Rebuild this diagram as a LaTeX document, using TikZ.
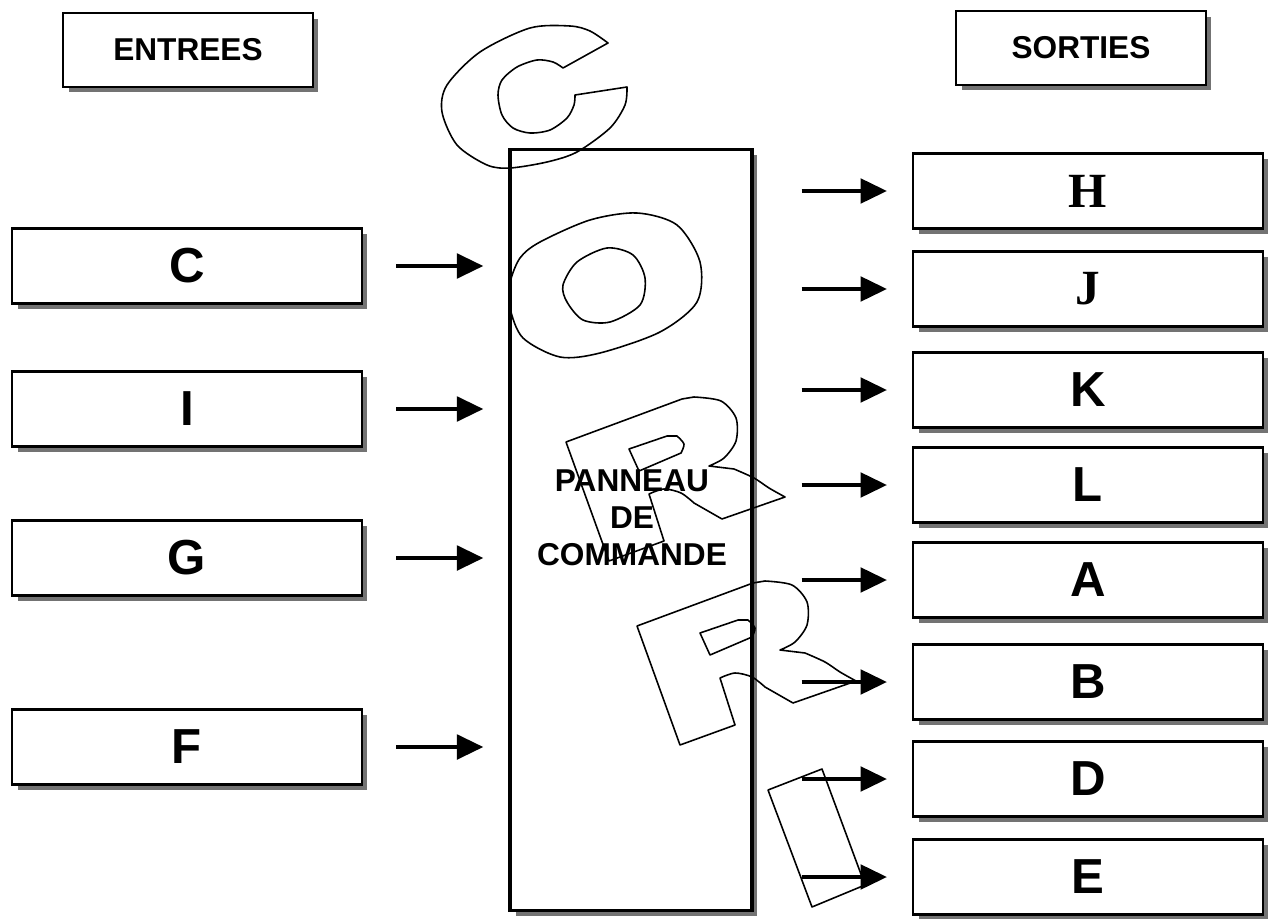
\documentclass[tikz,border=0pt]{standalone}
\usepackage{fontspec}
\setmainfont{Liberation Serif}
\setsansfont{Liberation Sans}
\usetikzlibrary{arrows.meta}
\usetikzlibrary{shadows}

\begin{document}
\begin{tikzpicture}[x=0.02cm,y=-0.02cm,
    case/.style={draw,line width=1.3pt,fill=white,inner sep=0pt,
      minimum width=7cm,minimum height=1.5cm,
      font=\sffamily\bfseries\fontsize{28}{30}\selectfont,
      drop shadow={shadow xshift=0.11cm,shadow yshift=-0.11cm,fill=black!55,opacity=1}},
    titre/.style={case,minimum width=5cm,minimum height=1.48cm,
      font=\sffamily\bfseries\fontsize{18}{21}\selectfont},
    serif/.style={font=\rmfamily\bfseries\fontsize{28}{30}\selectfont},
    fleche/.style={-{Triangle[length=15pt,width=14pt]},line width=2pt},
    contour/.style={line width=0.9pt,line join=round}]
  \useasboundingbox (0,0) rectangle (1275,919);

  % titres
  \node[titre] (entrees) at (188,50) {ENTREES};
  \node[titre] (sorties) at (1081,48) {SORTIES};

  % entrees
  \node[case] (eC) at (187,266) {C};
  \node[case] (eI) at (187,409) {I};
  \node[case] (eG) at (187,558) {G};
  \node[case] (eF) at (187,747) {F};

  % sorties
  \node[case,serif] (sH) at (1088,191) {H};
  \node[case,serif] (sJ) at (1088,289) {J};
  \foreach \s/\y in {K/390,L/485,A/580,B/682,D/779,E/877}
    \node[case] (s\s) at (1088,\y) {\s};

  % panneau
  \node[draw,line width=2pt,fill=white,inner sep=0pt,
    minimum width=4.84cm,minimum height=15.22cm,
    drop shadow={shadow xshift=0.11cm,shadow yshift=-0.11cm,fill=black!55,opacity=1}]
    (panneau) at (631,530) {};

  % lettres C O R R I
  \draw[contour] plot[smooth] coordinates {(608,43) (590,31) (570,26) (530,28) (480,52)
      (447,85) (442,112) (457,145) (487,165) (510,168) (547,162) (577,152) (610,128)
      (625,105) (627,87)}
    -- plot[smooth] coordinates {(575,95) (574,105) (567,118) (550,130) (530,133)
      (513,128) (502,115) (498,95) (502,80) (517,67) (537,60) (553,62) (563,68)}
    -- cycle;
  \draw[contour] plot[smooth cycle] coordinates {(510,283) (520,258) (540,242) (590,220)
      (637,213) (677,225) (700,262) (697,302) (660,332) (600,353) (560,357) (523,338)
      (510,308)};
  \draw[contour] plot[smooth cycle] coordinates {(563,285) (577,262) (607,248) (633,255)
      (645,278) (640,305) (610,322) (583,320) (567,302)};
  \foreach \dx/\dy in {0/0,-71/-184} {
    \draw[contour,shift={(\dx,\dy)}] (637,626) -- (753,583)
      -- plot[smooth] coordinates {(765,581) (792,585) (807,602) (807,625) (795,642) (780,650)}
      -- plot[smooth] coordinates {(805,653) (825,662) (840,672) (856,681)}
      -- (793,703)
      -- plot[smooth] coordinates {(765,687) (752,677) (735,673) (720,678)}
      -- (735,725) -- (680,745) -- cycle;
    \draw[contour,shift={(\dx,\dy)}] (700,633) -- (738,620)
      -- plot[smooth] coordinates {(748,620) (755,628) (752,637)}
      -- (710,655) -- cycle;
  }
  \draw[contour] (768,790) -- (822,769) -- (865,885) -- (812,907) -- cycle;

  \node[font=\sffamily\bfseries\fontsize{18}{21}\selectfont,align=center]
    (texte) at (632,518) {PANNEAU\\DE\\COMMANDE};

  % fleches
  \foreach \e in {C,I,G,F}
    \draw[fleche,shorten <=0.66cm,shorten >=0.5cm] (e\e.east) -- (panneau.west |- e\e.east);
  \foreach \s in {H,J,K,L,A,B,D,E}
    \draw[fleche,shorten <=0.96cm,shorten >=0.5cm] (panneau.east |- s\s.west) -- (s\s.west);
\end{tikzpicture}
\end{document}
